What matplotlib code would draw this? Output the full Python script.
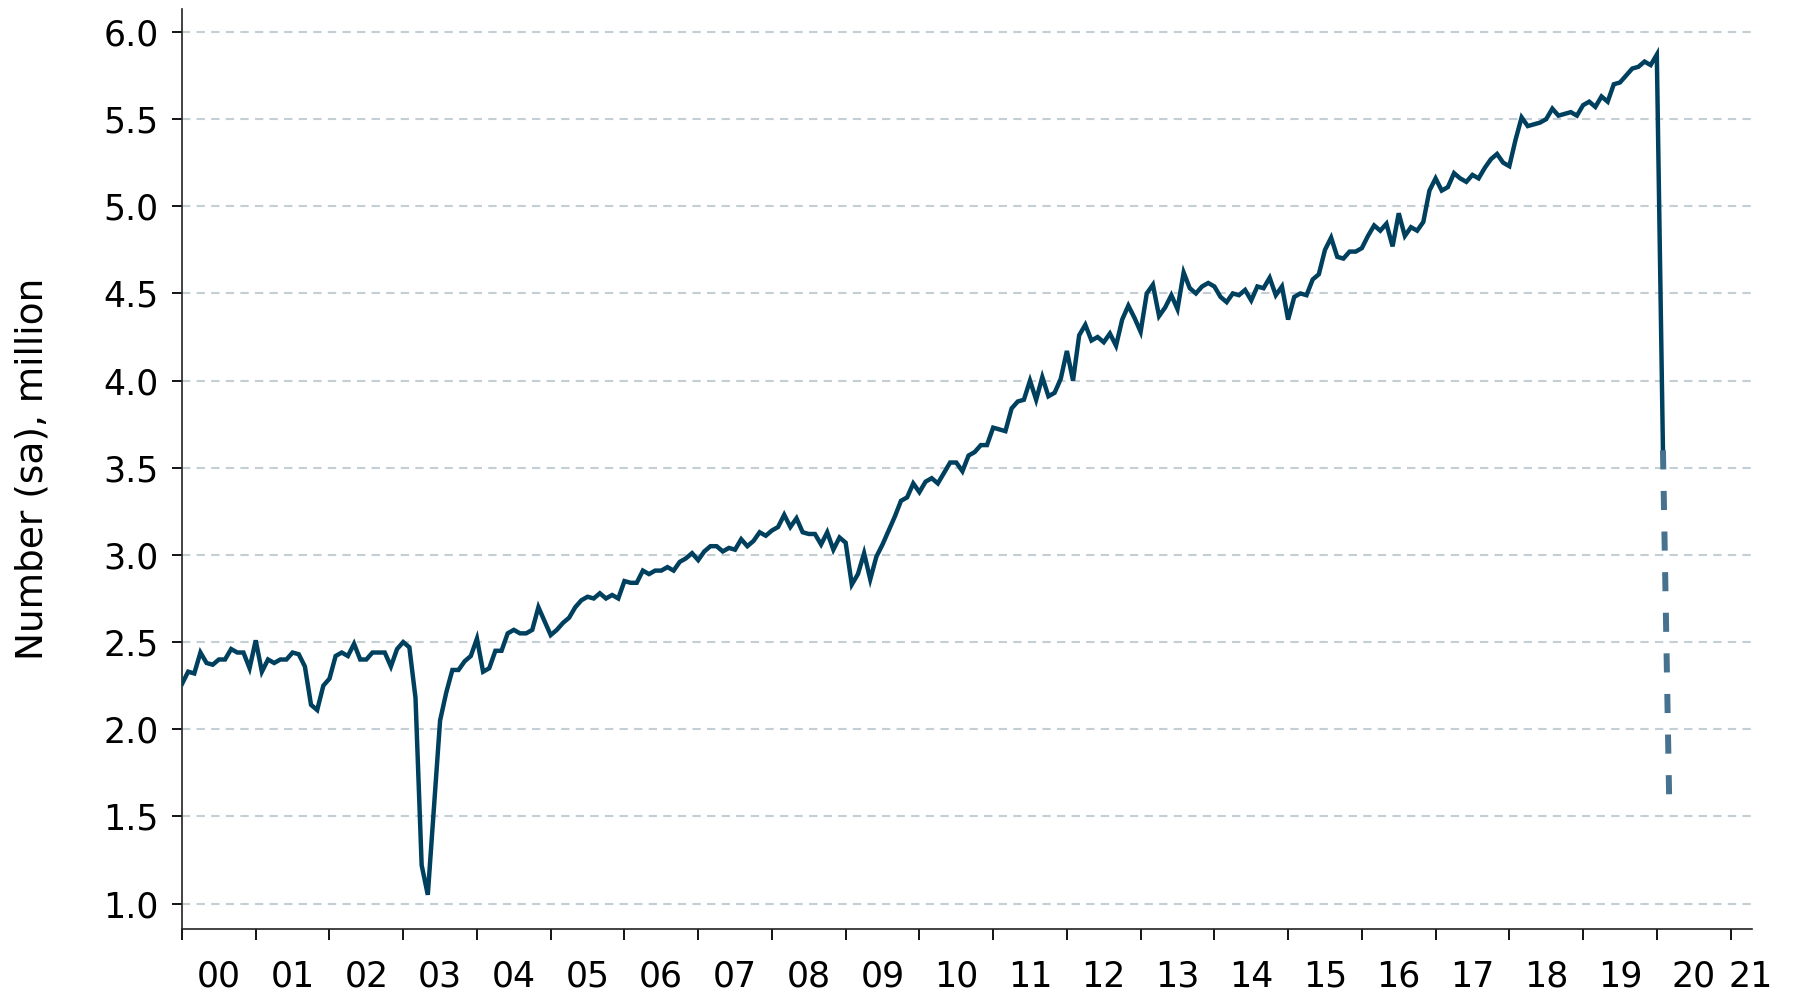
import numpy as np
import matplotlib
matplotlib.use("Agg")
import matplotlib.pyplot as plt

# monthly values, Jan 2000 - Feb 2020 (million, sa)
monthly = [
    2.26, 2.33, 2.32, 2.44, 2.38, 2.37, 2.40, 2.40, 2.46, 2.44, 2.44, 2.35,  # 2000
    2.51, 2.33, 2.40, 2.38, 2.40, 2.40, 2.44, 2.43, 2.36, 2.14, 2.11, 2.25,  # 2001
    2.29, 2.42, 2.44, 2.42, 2.49, 2.40, 2.40, 2.44, 2.44, 2.44, 2.36, 2.46,  # 2002
    2.50, 2.47, 2.18, 1.22, 1.05, 1.55, 2.05, 2.21, 2.34, 2.34, 2.39, 2.42,  # 2003
    2.52, 2.33, 2.35, 2.45, 2.45, 2.55, 2.57, 2.55, 2.55, 2.57, 2.70, 2.62,  # 2004
    2.54, 2.57, 2.61, 2.64, 2.70, 2.74, 2.76, 2.75, 2.78, 2.75, 2.77, 2.75,  # 2005
    2.85, 2.84, 2.84, 2.91, 2.89, 2.91, 2.91, 2.93, 2.91, 2.96, 2.98, 3.01,  # 2006
    2.97, 3.02, 3.05, 3.05, 3.02, 3.04, 3.03, 3.09, 3.05, 3.08, 3.13, 3.11,  # 2007
    3.14, 3.16, 3.23, 3.16, 3.21, 3.13, 3.12, 3.12, 3.06, 3.13, 3.03, 3.10,  # 2008
    3.07, 2.83, 2.89, 3.01, 2.86, 2.99, 3.06, 3.14, 3.22, 3.31, 3.33, 3.41,  # 2009
    3.36, 3.42, 3.44, 3.41, 3.47, 3.53, 3.53, 3.48, 3.57, 3.59, 3.63, 3.63,  # 2010
    3.73, 3.72, 3.71, 3.84, 3.88, 3.89, 4.00, 3.89, 4.02, 3.91, 3.93, 4.01,  # 2011
    4.17, 4.00, 4.26, 4.32, 4.23, 4.25, 4.22, 4.27, 4.20, 4.35, 4.43, 4.36,  # 2012
    4.28, 4.50, 4.55, 4.37, 4.42, 4.49, 4.41, 4.62, 4.53, 4.50, 4.54, 4.56,  # 2013
    4.54, 4.48, 4.45, 4.50, 4.49, 4.52, 4.46, 4.54, 4.53, 4.59, 4.49, 4.54,  # 2014
    4.35, 4.48, 4.50, 4.49, 4.58, 4.61, 4.75, 4.82, 4.71, 4.70, 4.74, 4.74,  # 2015
    4.76, 4.83, 4.89, 4.86, 4.90, 4.77, 4.96, 4.83, 4.88, 4.86, 4.91, 5.09,  # 2016
    5.16, 5.09, 5.11, 5.19, 5.16, 5.14, 5.18, 5.16, 5.22, 5.27, 5.30, 5.25,  # 2017
    5.23, 5.38, 5.51, 5.46, 5.47, 5.48, 5.50, 5.56, 5.52, 5.53, 5.54, 5.52,  # 2018
    5.58, 5.60, 5.57, 5.63, 5.60, 5.70, 5.71, 5.75, 5.79, 5.80, 5.83, 5.81,  # 2019
    5.87, 3.60,                                                              # 2020
]
# Feb 2020 -> Mar 2020 estimate (dashed)
projection = [3.60, 1.62]

years = list(range(2000, 2022))
year_labels = ["%02d" % (y % 100) for y in years]

start_year = 2000
x = start_year + np.arange(len(monthly)) / 12.0
x_proj = x[-1] + np.arange(len(projection)) / 12.0

line_col = "#00405f"
proj_col = "#46718f"
grid_col = "#c3cfd5"
fs = 25

plt.rcParams['font.family'] = ['DejaVu Sans']

fig = plt.figure(figsize=(17.93, 9.94), dpi=100)
ax = fig.add_axes([0.1015, 0.0654, 0.8756, 0.9256])

ax.plot(x, monthly, color=line_col, lw=3.2, solid_joinstyle='miter', zorder=3)
ax.plot(x_proj, projection, color=proj_col, lw=4.3, dashes=(3.2, 3.6), zorder=3)

ax.set_xlim(2000.0, 2021.29)
ax.set_ylim(0.854, 6.132)

yt = np.arange(1.0, 6.01, 0.5)
ax.set_yticks(yt)
ax.set_yticklabels(["%.1f" % v for v in yt])
ax.grid(axis='y', color=grid_col, lw=1.5, dashes=(4, 3))
ax.set_axisbelow(True)

# year boundaries as ticks, labels in the middle of each year
ax.set_xticks(years)
ax.set_xticklabels([])
label_pos = [min(y + 0.5, 2021.27) for y in years]
ax.set_xticks(label_pos, minor=True)
ax.set_xticklabels(year_labels, minor=True)

ax.tick_params(axis='x', which='major', direction='out', length=8, width=1.3)
ax.tick_params(axis='x', which='minor', length=0, pad=22, labelsize=fs)
ax.tick_params(axis='y', direction='out', length=7, width=1.3, pad=10, labelsize=fs)

for s in ['top', 'right']:
    ax.spines[s].set_visible(False)
for s in ['left', 'bottom']:
    ax.spines[s].set_linewidth(1.2)
    ax.spines[s].set_color('#222222')

ax.set_ylabel("Number (sa), million", fontsize=27)
ax.yaxis.set_label_coords(-0.084, 0.5)

plt.savefig("out.png", dpi=100)
